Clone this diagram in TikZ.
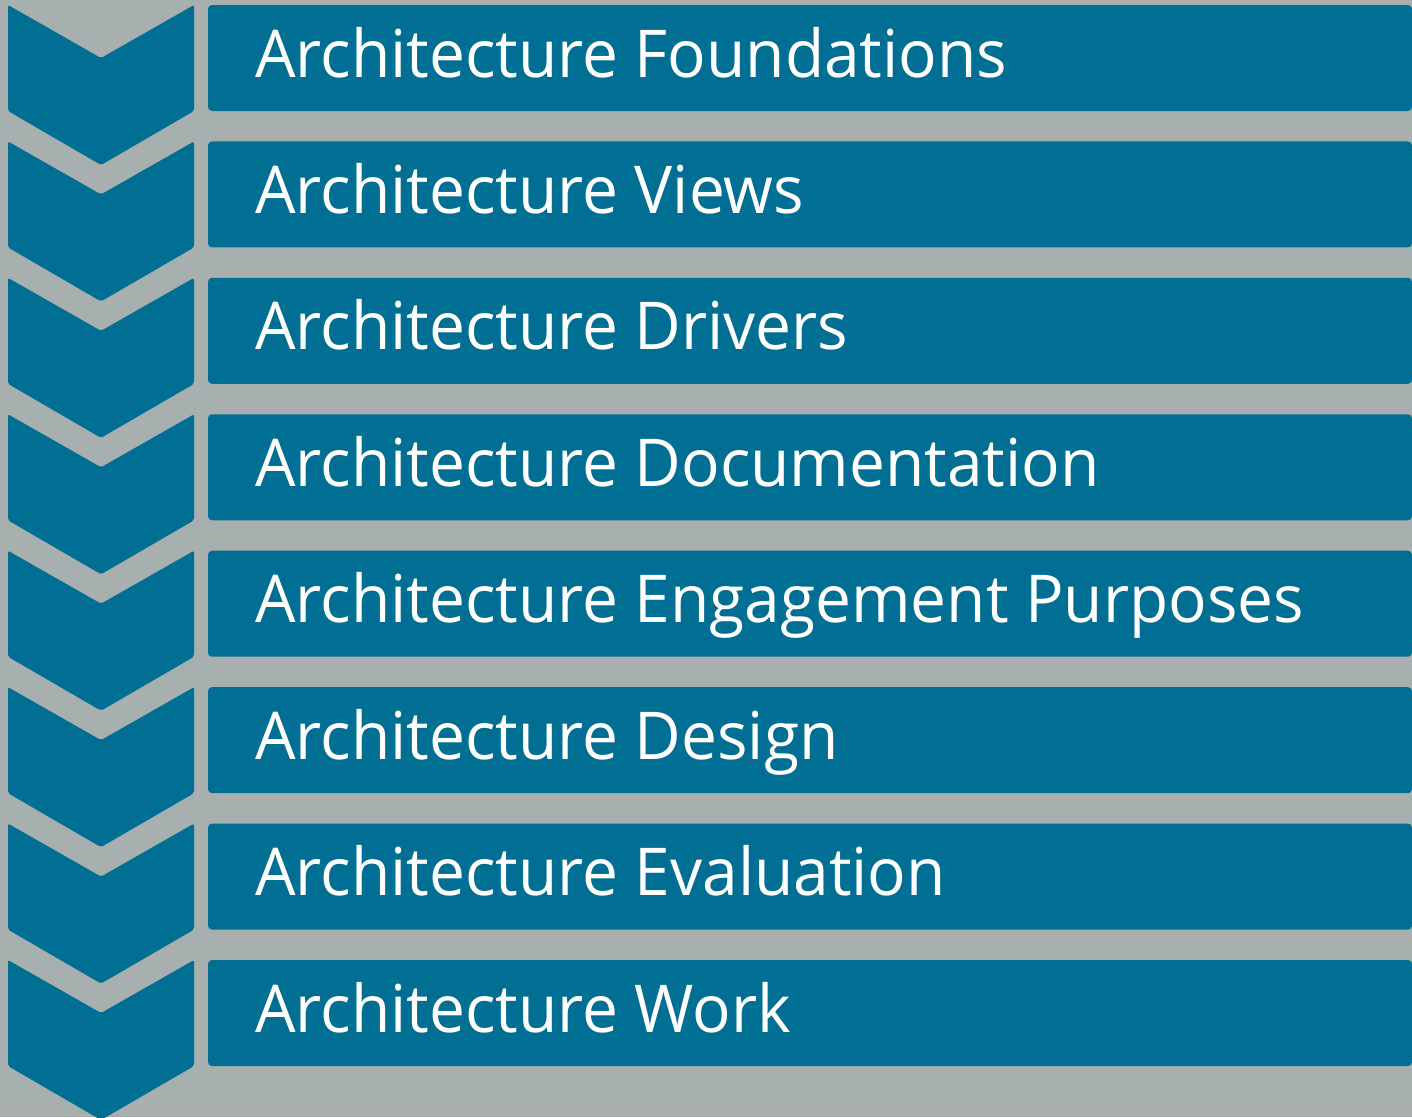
\documentclass[tikz,border=0pt]{standalone}
\usepackage{fontspec}
\setmainfont{Open Sans}[FakeStretch=0.97]
\definecolor{bgray}{RGB}{168,176,175}
\definecolor{sblue}{RGB}{0,111,147}
\begin{document}
\begin{tikzpicture}[x=1pt,y=-1pt,
  chev/.style={fill=sblue,rounded corners=2pt},
  bar/.style={fill=sblue,rounded corners=4pt},
  lbl/.style={anchor=base west,inner sep=0pt,text=white,font=\fontsize{66}{70}\selectfont}]
\fill[bgray] (0,0) rectangle (1412,1117);
\useasboundingbox (0,0) rectangle (1412,1117);
\foreach \i/\t in {0/Architecture Foundations,1/Architecture Views,2/Architecture Drivers,3/Architecture Documentation,4/Architecture Engagement Purposes,5/Architecture Design,6/Architecture Evaluation,7/Architecture Work}{
  \pgfmathsetmacro{\top}{5+136.43*\i}
  \path[chev] (8,\top) -- (101,\top+53) -- (194,\top) -- (194,\top+106) -- (101,\top+160) -- (8,\top+106) -- cycle;
  \path[bar] (208,\top) rectangle (1412,\top+106);
  \node[lbl] (t\i) at (255,\top+72) {\t};
}
\end{tikzpicture}
\end{document}
